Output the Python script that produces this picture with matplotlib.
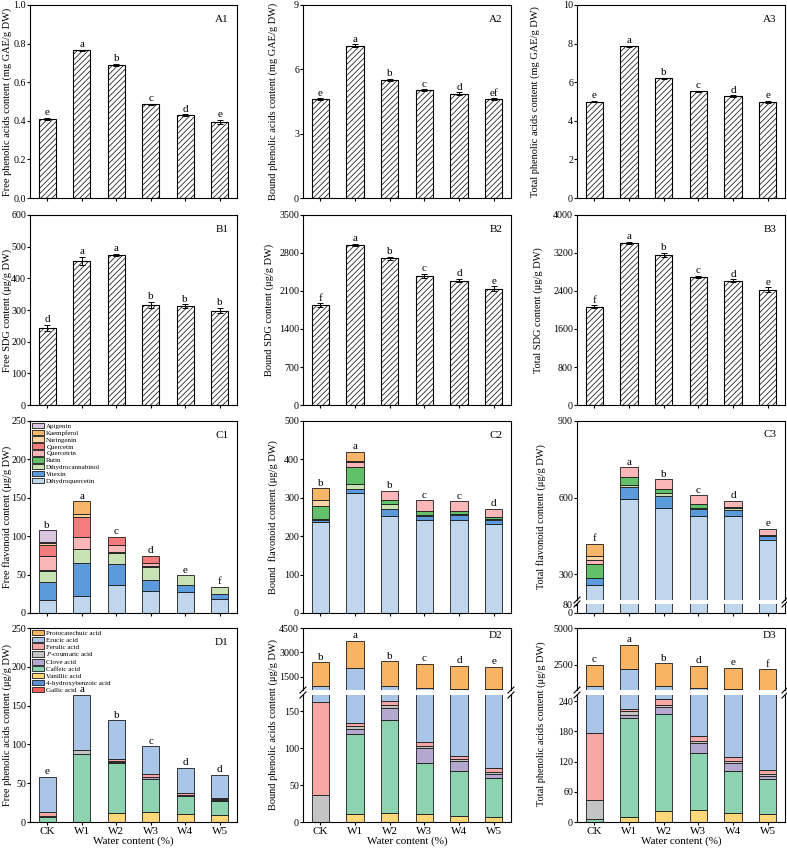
import matplotlib
matplotlib.use('Agg')
import matplotlib.pyplot as plt
import numpy as np
from matplotlib.patches import Patch
from matplotlib.lines import Line2D

plt.rcParams['font.family'] = ['Liberation Serif', 'DejaVu Serif']
plt.rcParams['mathtext.fontset'] = 'stix'
plt.rcParams['font.size'] = 7.5
plt.rcParams['hatch.linewidth'] = 0.5
plt.rcParams['axes.linewidth'] = 0.8

groups = ['CK', 'W1', 'W2', 'W3', 'W4', 'W5']

# row A - phenolic acids (mg GAE/g DW)
free_phen_a = [0.41, 0.765, 0.69, 0.485, 0.43, 0.395]
free_phen_a_err = [0.004, 0.004, 0.004, 0.004, 0.003, 0.01]
free_phen_a_sig = ['e', 'a', 'b', 'c', 'd', 'e']
bound_phen_a = [4.6, 7.1, 5.5, 5.02, 4.87, 4.6]
bound_phen_a_err = [0.04, 0.06, 0.05, 0.04, 0.05, 0.04]
bound_phen_a_sig = ['e', 'a', 'b', 'c', 'd', 'ef']
total_phen_a = [5.0, 7.85, 6.2, 5.52, 5.28, 4.97]
total_phen_a_err = [0.03, 0.04, 0.03, 0.03, 0.04, 0.05]
total_phen_a_sig = ['e', 'a', 'b', 'c', 'd', 'e']

# row B - SDG
free_sdg = [243, 455, 473, 315, 312, 298]
free_sdg_err = [10, 12, 4, 10, 6, 8]
free_sdg_sig = ['d', 'a', 'a', 'b', 'b', 'b']
bound_sdg = [1840, 2945, 2705, 2375, 2290, 2140]
bound_sdg_err = [30, 25, 30, 35, 30, 45]
bound_sdg_sig = ['f', 'a', 'b', 'c', 'd', 'e']
total_sdg = [2065, 3410, 3160, 2695, 2615, 2425]
total_sdg_err = [30, 30, 40, 30, 30, 50]
total_sdg_sig = ['f', 'a', 'b', 'c', 'd', 'e']

# row C - flavonoids, stacked bottom -> top
flav_names = ['Dihydroquercetin', 'Vitexin', 'Dihydrocannabinol', 'Rutin', 'Quercetrin',
              'Quercetin', 'Naringenin', 'Kaempferol', 'Apigenin']
flav_colors = ['#c0d6ec', '#5b9bdc', '#c8e2b4', '#62bf6a', '#fbb7b7',
               '#f47c7c', '#fcd3a4', '#f8b66a', '#d8c7df']
free_flav = [
    [16.5, 22, 36.5, 28.5, 27.5, 18.5],
    [23.5, 43, 27.5, 14.5, 9.5, 6.5],
    [15, 18, 14, 17.5, 12, 9],
    [1, 0.5, 1.5, 1, 0, 0],
    [18.5, 15, 8.5, 4, 0, 0],
    [14, 26, 11.5, 8.5, 0, 0],
    [3, 5, 0, 0, 0, 0],
    [0.5, 16, 0, 0, 0, 0],
    [15.5, 0, 0, 0, 0, 0],
]
free_flav_sig = ['b', 'a', 'c', 'd', 'e', 'f']
bound_flav = [
    [237, 313, 253, 241, 243, 233],
    [5, 11, 19, 12, 13, 8],
    [2, 12, 12, 2, 2, 3],
    [34, 45, 9, 10, 8, 5],
    [0, 11, 26, 28, 25, 22.5],
    [0, 0, 0, 0, 0, 0],
    [15, 3, 0, 0, 0, 0],
    [32, 25, 0, 0, 0, 0],
    [0, 0, 0, 0, 0, 0],
]
bound_flav_sig = ['b', 'a', 'b', 'c', 'c', 'd']
total_flav = [
    [257, 596, 561, 530, 530, 435],
    [28, 45, 44, 27, 23, 15],
    [2, 9, 13, 3, 6.5, 2],
    [55, 30, 17, 14, 4, 3],
    [16, 39, 37, 35, 23, 22],
    [0, 0, 0, 0, 0, 0],
    [15, 0, 0, 0, 0, 0],
    [47, 0, 0, 0, 0, 0],
    [0, 0, 0, 0, 0, 0],
]
total_flav_sig = ['f', 'a', 'b', 'c', 'd', 'e']

# row D - phenolic acids, stacked bottom -> top
acid_names = ['Gallic acid', '4-hydroxybenzoic acid', 'Vanillic acid', 'Caffeic acid',
              'Clove acid', r'$\mathit{P}$-coumaric acid', 'Ferulic acid', 'Erucic acid',
              'Protocatechuic acid']
acid_colors = ['#f25f5c', '#5b8fd6', '#fdd77a', '#8dd3b0', '#b5a8d0',
               '#c4c4c4', '#f8a7a7', '#a9c6e8', '#f8b462']
free_acid = [
    [0, 0, 0, 0, 0, 0],
    [0, 0, 0, 0, 0, 0],
    [0, 0, 11, 12.5, 10.5, 9.5],
    [7, 87.5, 64.5, 43.5, 22.5, 17.5],
    [0, 0, 1.5, 1.5, 1, 1],
    [0.5, 5, 1, 1, 1, 1],
    [6, 0, 3.5, 3, 2.5, 2.5],
    [44.5, 71.5, 49.5, 36, 32.5, 29],
    [0, 0, 0, 0, 0, 0],
]
free_acid_sig = ['e', 'a', 'b', 'c', 'd', 'd']
bound_acid = [
    [0, 0, 0, 0, 0, 0],
    [0, 0, 0, 0, 0, 0],
    [0, 11.5, 12.5, 11.5, 8.5, 7],
    [0, 107.5, 125.5, 68, 60, 52.5],
    [0, 6.5, 17, 20.5, 13.5, 5.5],
    [36, 4, 3, 3, 3, 3],
    [126, 5, 6, 5, 5, 4.5],
    [788, 1916, 756, 712, 680, 667],
    [1450, 1650, 1540, 1480, 1430, 1400],
]
bound_acid_sig = ['b', 'a', 'b', 'c', 'd', 'e']
total_acid = [
    [0, 0, 0, 0, 0, 0],
    [0, 0, 0, 0, 0, 0],
    [0, 10, 22, 23, 18, 16],
    [6, 197, 192, 114, 83, 70],
    [0, 5, 15, 19, 17, 6],
    [37, 8, 4, 5, 3, 4],
    [134, 5, 11, 9, 7, 8],
    [893, 1980, 826, 740, 722, 726],
    [1430, 1655, 1545, 1520, 1470, 1370],
]
total_acid_sig = ['c', 'a', 'b', 'd', 'e', 'f']

W, H = 787, 849
fig = plt.figure(figsize=(7.87, 8.49), dpi=100)


def add_box(l, t, r, b):
    return fig.add_axes([l / W, 1 - b / H, (r - l) / W, (b - t) / H])


cols = [(30, 237), (303, 511), (577, 785)]
rows = [(5, 198), (215, 405), (421, 613), (628, 822)]
x = np.arange(6)
edge = '#1a1a1a'


def frame(ax, labels=False):
    ax.set_xlim(-0.5, 5.5)
    ax.set_xticks(x)
    ax.set_xticklabels(groups if labels else [])
    ax.tick_params(length=2, width=0.8, direction='out', pad=0.8, labelsize=7.2)
    if labels:
        ax.tick_params(axis='x', labelsize=8, pad=1.5)


def ylab(ax, text, col, center_px, yfrac=0.5):
    # place the y label so its centre sits at a fixed pixel column
    ax.set_ylabel(text)
    ax.yaxis.set_label_coords((center_px + 6 - col[0]) / (col[1] - col[0]), yfrac)


def put_sig(ax, tops, letters):
    for xi, top, s in zip(x, tops, letters):
        ax.annotate(s, (xi, top), xytext=(0, 0.5), textcoords='offset points',
                    ha='center', va='bottom', fontsize=8)


def put_tag(ax, tag):
    ax.text(0.96, 0.95, tag, transform=ax.transAxes, ha='right', va='top', fontsize=8)


def hatched(ax, vals, errs, letters, ylim, yticks, tag):
    ax.bar(x, vals, 0.5, color='white', edgecolor='black', hatch='//////', linewidth=0.8,
           yerr=errs, capsize=2, error_kw=dict(elinewidth=0.7, capthick=0.7, ecolor='black'))
    frame(ax)
    ax.set_ylim(*ylim)
    ax.set_yticks(yticks)
    put_tag(ax, tag)
    put_sig(ax, np.array(vals) + np.array(errs), letters)


def stacked(ax, comps, colors):
    base = np.zeros(6)
    for vals, c in zip(comps, colors):
        vals = np.asarray(vals, float)
        keep = vals > 0
        ax.bar(x[keep], vals[keep], 0.5, bottom=base[keep], color=c,
               edgecolor=edge, linewidth=0.6)
        base += vals
    return base


def break_marks(ax_top, ax_bot, col, gap):
    ax_top.spines['bottom'].set_visible(False)
    ax_bot.spines['top'].set_visible(False)
    ax_top.tick_params(axis='x', bottom=False, labelbottom=False)
    for xp in col:
        for yp in gap:
            fig.add_artist(Line2D([(xp - 3) / W, (xp + 3) / W],
                                  [1 - (yp + 3) / H, 1 - (yp - 3) / H],
                                  transform=fig.transFigure, color='k', lw=0.8))


def legend(ax, names, colors):
    handles = [Patch(facecolor=c, edgecolor=edge, linewidth=0.6, label=n)
               for n, c in zip(names[::-1], colors[::-1])]
    ax.legend(handles=handles, loc='upper left', frameon=False, fontsize=5,
              handlelength=1.8, handleheight=0.85, labelspacing=0.1,
              handletextpad=0.3, borderaxespad=0.15, borderpad=0.1)


# row A
ax = add_box(cols[0][0], rows[0][0], cols[0][1], rows[0][1])
hatched(ax, free_phen_a, free_phen_a_err, free_phen_a_sig, (0, 1.0),
        [0, 0.2, 0.4, 0.6, 0.8, 1.0], 'A1')
ax.set_yticklabels(['0.0', '0.2', '0.4', '0.6', '0.8', '1.0'])
ylab(ax, 'Free phenolic acids content (mg GAE/g DW)', cols[0], 6)
ax = add_box(cols[1][0], rows[0][0], cols[1][1], rows[0][1])
hatched(ax, bound_phen_a, bound_phen_a_err, bound_phen_a_sig, (0, 9), [0, 3, 6, 9], 'A2')
ylab(ax, 'Bound phenolic acids content (mg GAE/g DW)', cols[1], 272)
ax = add_box(cols[2][0], rows[0][0], cols[2][1], rows[0][1])
hatched(ax, total_phen_a, total_phen_a_err, total_phen_a_sig, (0, 10),
        [0, 2, 4, 6, 8, 10], 'A3')
ylab(ax, 'Total phenolic acids content (mg GAE/g DW)', cols[2], 534)

# row B
ax = add_box(cols[0][0], rows[1][0], cols[0][1], rows[1][1])
hatched(ax, free_sdg, free_sdg_err, free_sdg_sig, (0, 600), range(0, 601, 100), 'B1')
ylab(ax, 'Free SDG content (μg/g DW)', cols[0], 6)
ax = add_box(cols[1][0], rows[1][0], cols[1][1], rows[1][1])
hatched(ax, bound_sdg, bound_sdg_err, bound_sdg_sig, (0, 3500), range(0, 3501, 700), 'B2')
ylab(ax, 'Bound SDG content (μg/g DW)', cols[1], 268)
ax = add_box(cols[2][0], rows[1][0], cols[2][1], rows[1][1])
hatched(ax, total_sdg, total_sdg_err, total_sdg_sig, (0, 4000), range(0, 4001, 800), 'B3')
ylab(ax, 'Total SDG content (μg/g DW)', cols[2], 537)

# C1
ax = add_box(cols[0][0], rows[2][0], cols[0][1], rows[2][1])
tops = stacked(ax, free_flav, flav_colors)
frame(ax)
ax.set_ylim(0, 250)
ax.set_yticks(range(0, 251, 50))
ylab(ax, 'Free flavonoid content (μg/g DW)', cols[0], 6)
put_sig(ax, tops, free_flav_sig)
put_tag(ax, 'C1')
legend(ax, flav_names, flav_colors)

# C2
ax = add_box(cols[1][0], rows[2][0], cols[1][1], rows[2][1])
tops = stacked(ax, bound_flav, flav_colors)
frame(ax)
ax.set_ylim(0, 500)
ax.set_yticks(range(0, 501, 100))
ylab(ax, 'Bound  flavonoid content (μg/g DW)', cols[1], 272)
put_sig(ax, tops, bound_flav_sig)
put_tag(ax, 'C2')

# C3 (broken axis)
ax_t = add_box(cols[2][0], rows[2][0], cols[2][1], 600)
ax_b = add_box(cols[2][0], 604, cols[2][1], rows[2][1])
for a in (ax_t, ax_b):
    tops = stacked(a, total_flav, flav_colors)
    frame(a)
ax_t.set_ylim(200, 900)
ax_t.set_yticks([300, 600, 900])
ax_b.set_ylim(0, 85)
ax_b.set_yticks([0, 80])
break_marks(ax_t, ax_b, cols[2], (600, 604))
put_sig(ax_t, tops, total_flav_sig)
put_tag(ax_t, 'C3')
ylab(ax_t, 'Total flavonoid content (μg/g DW)', cols[2], 540, 0.465)

# D1
ax = add_box(cols[0][0], rows[3][0], cols[0][1], rows[3][1])
tops = stacked(ax, free_acid, acid_colors)
frame(ax, labels=True)
ax.set_ylim(0, 250)
ax.set_yticks(range(0, 251, 50))
ylab(ax, 'Free phenolic acids content (μg/g DW)', cols[0], 6)
ax.set_xlabel('Water content (%)', fontsize=8, labelpad=0.5)
put_sig(ax, tops, free_acid_sig)
put_tag(ax, 'D1')
legend(ax, acid_names, acid_colors)

# D2 (broken axis)
ax_t = add_box(cols[1][0], rows[3][0], cols[1][1], 690)
ax_b = add_box(cols[1][0], 695, cols[1][1], rows[3][1])
for a in (ax_t, ax_b):
    tops = stacked(a, bound_acid, acid_colors)
    frame(a, labels=True)
ax_t.set_ylim(700, 4500)
ax_t.set_yticks([1500, 3000, 4500])
ax_b.set_ylim(0, 172)
ax_b.set_yticks([0, 50, 100, 150])
break_marks(ax_t, ax_b, cols[1], (690, 695))
ax_b.set_xlabel('Water content (%)', fontsize=8, labelpad=0.5)
put_sig(ax_t, tops, bound_acid_sig)
put_tag(ax_t, 'D2')
ylab(ax_t, 'Bound phenolic acids content (μg/g DW)', cols[1], 272, -0.55)

# D3 (broken axis)
ax_t = add_box(cols[2][0], rows[3][0], cols[2][1], 690)
ax_b = add_box(cols[2][0], 695, cols[2][1], rows[3][1])
for a in (ax_t, ax_b):
    tops = stacked(a, total_acid, acid_colors)
    frame(a, labels=True)
ax_t.set_ylim(800, 5000)
ax_t.set_yticks([2500, 5000])
ax_b.set_ylim(0, 252)
ax_b.set_yticks([0, 60, 120, 180, 240])
break_marks(ax_t, ax_b, cols[2], (690, 695))
ax_b.set_xlabel('Water content (%)', fontsize=8, labelpad=0.5)
put_sig(ax_t, tops, total_acid_sig)
put_tag(ax_t, 'D3')
ylab(ax_t, 'Total phenolic acids content (μg/g DW)', cols[2], 540, -0.55)

fig.savefig('out.png', dpi=100)
